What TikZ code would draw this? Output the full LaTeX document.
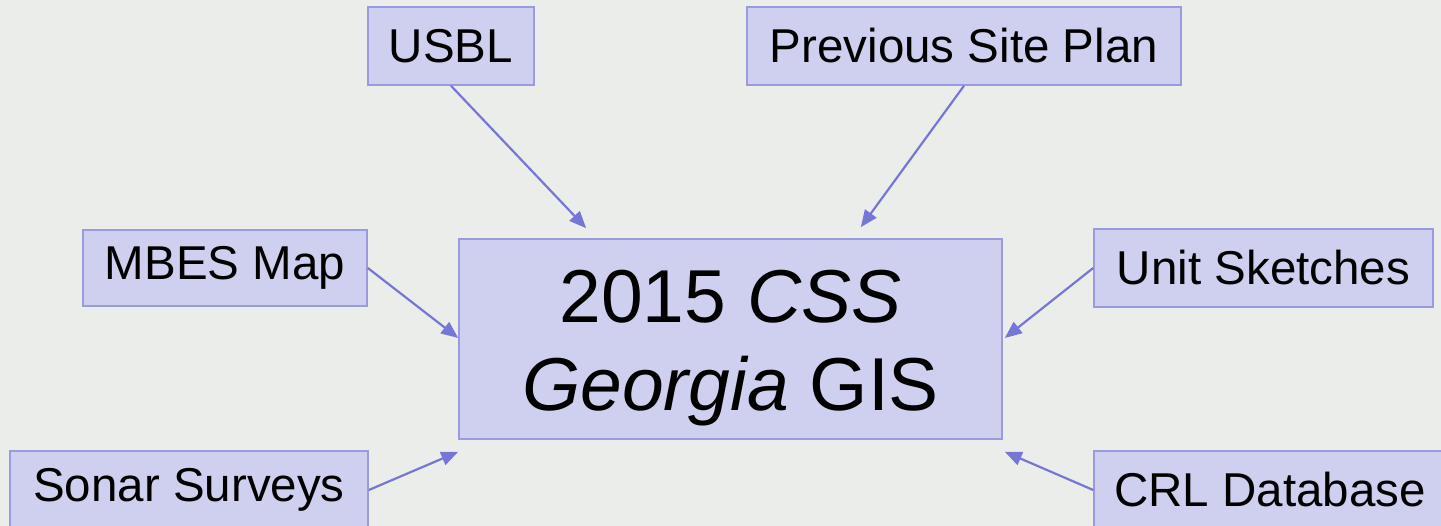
\documentclass[tikz,border=0pt]{standalone}
\usepackage{fontspec}
\setmainfont{Liberation Sans}
\usetikzlibrary{arrows.meta,calc}
\definecolor{bgcol}{HTML}{EBEDEB}
\definecolor{boxfill}{HTML}{CFCFEF}
\definecolor{boxline}{HTML}{9A9ADF}
\definecolor{arrcol}{HTML}{7676D6}
\tikzset{
  srcbox/.style={draw=boxline, fill=boxfill, line width=1.6pt, inner sep=0pt,
    font=\fontsize{47.5}{54}\selectfont, text=black},
  mainbox/.style={draw=boxline, fill=boxfill, line width=1.6pt, inner sep=0pt,
    font=\fontsize{75}{88}\selectfont, align=center, text=black},
  feed/.style={draw=arrcol, line width=2.2pt, -{Triangle[length=17pt,width=14pt]}}
}
\begin{document}
\begin{tikzpicture}[x=1pt,y=-1pt]
\fill[bgcol] (0,0) rectangle (1441,526);
\useasboundingbox (0,0) rectangle (1441,526);
\node[srcbox, minimum width=166pt, minimum height=78pt] (usbl) at (451,46) {USBL};
\node[srcbox, minimum width=434pt, minimum height=78pt] (psp) at (964,46) {Previous Site Plan};
\node[srcbox, minimum width=284pt, minimum height=76pt] (mbes) at (225,268) {MBES Map};
\node[srcbox, minimum width=339pt, minimum height=78pt] (unit) at (1263.5,268) {Unit Sketches};
\node[srcbox, minimum width=358pt, minimum height=78pt] (sonar) at (189,490) {Sonar Surveys};
\node[srcbox, minimum width=360pt, minimum height=78pt] (crl) at (1274,490) {\hspace*{-8pt}CRL Database};
\node[mainbox, minimum width=543pt, minimum height=200pt, text height=146pt, text depth=2pt] (main) at (730.5,339)
  {2015 \textit{CSS}\\\textit{Georgia} GIS};
\draw[feed] (usbl.south) -- ($(main.north west)+(128,-10)$);
\draw[feed] (psp.south) -- ($(main.north east)+(-142,-11)$);
\draw[feed] (mbes.east) -- ($(main.west)+(0,-1)$);
\draw[feed] (unit.west) -- ($(main.east)+(2,-1)$);
\draw[feed] (sonar.east) -- ($(main.south west)+(0,12)$);
\draw[feed] (crl.west) -- ($(main.south east)+(2,12)$);
\end{tikzpicture}
\end{document}
